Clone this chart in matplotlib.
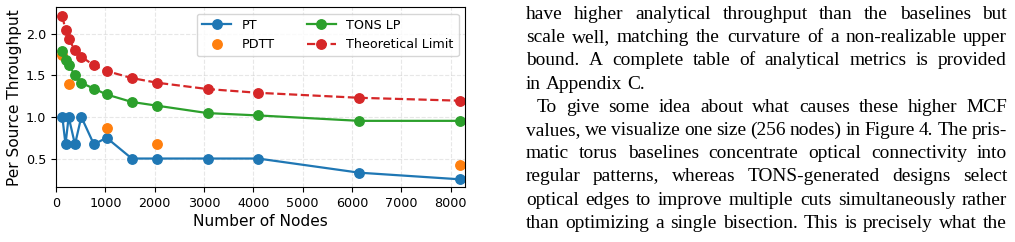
import matplotlib
matplotlib.use("Agg")
import matplotlib.pyplot as plt

# data
nodes = [128, 192, 256, 384, 512, 768, 1024, 1536, 2048, 3072, 4096, 6144, 8192]
pt = [1.0, 0.67, 1.0, 0.67, 1.0, 0.67, 0.75, 0.5, 0.5, 0.5, 0.5, 0.33, 0.25]
pdtt_nodes = [128, 256, 1024, 2048, 8192]
pdtt = [1.75, 1.39, 0.865, 0.68, 0.42]
tons_lp = [1.79, 1.68, 1.63, 1.50, 1.41, 1.34, 1.27, 1.18, 1.135, 1.046, 1.018, 0.953, 0.953]
theo = [2.21, 2.045, 1.934, 1.805, 1.724, 1.62, 1.552, 1.467, 1.411, 1.335, 1.29, 1.23, 1.195]

body_lines = [
    "have higher analytical throughput than the baselines but",
    "scale well, matching the curvature of a non-realizable upper",
    "bound. A complete table of analytical metrics is provided",
    "in Appendix C.",
    "To give some idea about what causes these higher MCF",
    "values, we visualize one size (256 nodes) in Figure 4. The pris-",
    "matic torus baselines concentrate optical connectivity into",
    "regular patterns, whereas TONS-generated designs select",
    "optical edges to improve multiple cuts simultaneously rather",
    "than optimizing a single bisection. This is precisely what the",
]
last_lines = [3]  # paragraph ends, not justified
indent_lines = [4]


def draw_body(fig):
    renderer = fig.canvas.get_renderer()
    W, H = fig.get_size_inches() * fig.dpi
    left, right = 526, 1007
    y0, step = 14.5, 23.2
    base = 12.0

    # pick the font size so the tightest line fits with small spaces
    fits = []
    for i, line in enumerate(body_lines):
        if i in last_lines:
            continue
        words = line.split(" ")
        ws = [fig.text(0, 0, w, family="Liberation Serif", fontsize=base)
              for w in words]
        tot = sum(t.get_window_extent(renderer).width for t in ws)
        for t in ws:
            t.remove()
        avail = right - left - (11 if i in indent_lines else 0)
        sp = 0.2 * base * fig.dpi / 72 * (len(words) - 1)
        fits.append(avail / (tot + sp))
    size = base * min(fits)

    for i, line in enumerate(body_lines):
        y = 1 - (y0 + i * step) / H
        x_start = left + (11 if i in indent_lines else 0)
        words = line.split(" ")
        texts = [fig.text(0, y, w, family="Liberation Serif", fontsize=size,
                          va="center", ha="left") for w in words]
        widths = [t.get_window_extent(renderer).width for t in texts]
        if i not in last_lines and len(words) > 1:
            gap = (right - x_start - sum(widths)) / (len(words) - 1)
        else:
            gap = 0.25 * size * fig.dpi / 72
        x = x_start
        for t, w in zip(texts, widths):
            t.set_x(x / W)
            x += w + gap


fig = plt.figure(figsize=(10.15, 2.42), dpi=100)
ax = fig.add_axes([0.0552, 0.2273, 0.4030, 0.7427])

ms = 6.8
ax.plot(nodes, pt, "o-", color="C0", lw=1.6, ms=ms, label="PT")
ax.plot(pdtt_nodes, pdtt, "o", color="C1", ms=ms, label="PDTT")
ax.plot(nodes, tons_lp, "o-", color="C2", lw=1.6, ms=ms, label="TONS LP")
ax.plot(nodes, theo, "o--", color="C3", lw=1.6, ms=ms, label="Theoretical Limit")

ax.set_xlim(0, 8290)
ax.set_ylim(0.158, 2.318)
ax.set_yticks([0.5, 1.0, 1.5, 2.0])
ax.set_xticks(range(0, 8001, 1000))
ax.grid(True, linestyle="--", alpha=0.3)
ax.tick_params(labelsize=9.2)
ax.set_xlabel("Number of Nodes", fontsize=11.1, labelpad=3)
ax.set_ylabel("Per Source Throughput", fontsize=11.1, labelpad=3)
ax.legend(ncol=2, fontsize=9.2, loc="upper right", handlelength=2.3,
          columnspacing=2.5)

draw_body(fig)

fig.savefig("out.png", dpi=100)
